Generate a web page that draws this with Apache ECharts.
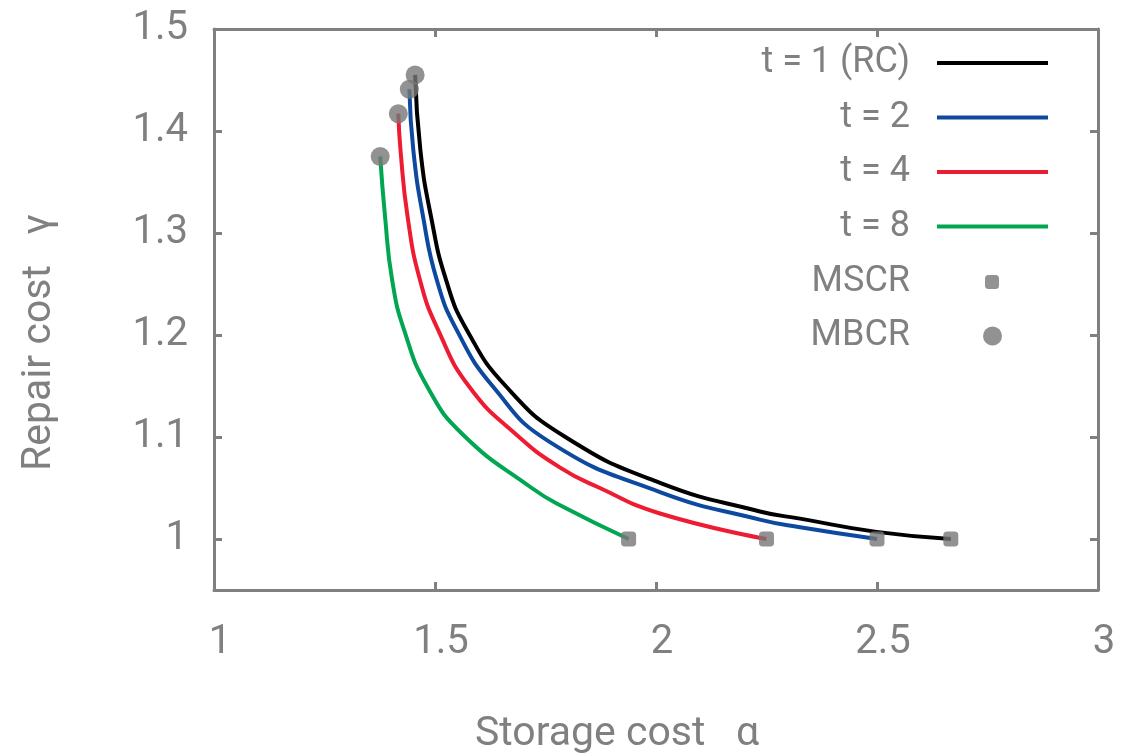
<!DOCTYPE html>
<html>
<head>
<meta charset="utf-8">
<script src="https://cdn.jsdelivr.net/npm/echarts@6/dist/echarts.min.js"></script>
<style>
  html, body { margin: 0; background: #fff; }
  #chart { width: 1129px; height: 755px; }
</style>
</head>
<body>
<div id="chart"></div>
<script>
// values (alpha = storage cost, gamma = repair cost)
const alphaT1 = [1.455, 1.467, 1.491, 1.525, 1.572, 1.662, 1.795, 2.009, 2.235, 2.326, 2.499, 2.667]
const gammaT1 = [1.455, 1.381, 1.316, 1.254, 1.205, 1.149, 1.100, 1.055, 1.027, 1.020, 1.007, 1.0]

const alphaT2 = [1.442, 1.451, 1.473, 1.504, 1.549, 1.632, 1.76, 2.009, 2.235, 2.326, 2.50]
const gammaT2 = [1.441, 1.381, 1.316, 1.254, 1.205, 1.149, 1.095, 1.046, 1.019, 1.0115, 1.0]

const alphaT4 = [1.417, 1.422, 1.438, 1.466, 1.507, 1.578, 1.685, 1.783, 1.873, 2.009, 2.25]
const gammaT4 = [1.417, 1.381, 1.316, 1.254, 1.205, 1.149, 1.102, 1.070, 1.050, 1.025, 1.0]

const alphaT8 = [1.376, 1.387, 1.403, 1.430, 1.483, 1.564, 1.719, 1.783, 1.938]
const gammaT8 = [1.375, 1.316, 1.254, 1.205, 1.149, 1.102, 1.050, 1.033, 1.0]

const mscrAlpha = [2.667, 2.50, 2.25, 1.938]
const mscrGamma = [1.0, 1.0, 1.0, 1.0]
const mbcrAlpha = [1.455, 1.442, 1.417, 1.376]
const mbcrGamma = [1.455, 1.441, 1.417, 1.375]

const curveNames = ['t = 1 (RC)', 't = 2', 't = 4', 't = 8']
const yTicks = [1, 1.1, 1.2, 1.3, 1.4, 1.5]

const gray = '#808080'
const font = 'Roboto'

const zip = (xs, ys) => xs.map((x, i) => [x, ys[i]])

const chart = echarts.init(document.getElementById('chart'))

const axisLine = { show: true, lineStyle: { color: gray, width: 3 } }
const axisTick = { show: true, inside: true, length: 8, lineStyle: { color: gray, width: 3 } }

const curve = (name, xs, ys, color) => ({
  name,
  type: 'line',
  data: zip(xs, ys),
  symbol: 'none',
  smooth: 0.5,
  lineStyle: { color, width: 4 },
  itemStyle: { color },
  z: 2
})

const legendText = (gap) => ({
  color: gray, fontSize: 36, fontFamily: font, lineHeight: 40, padding: [0, gap, 0, 0]
})

chart.setOption({
  animation: false,
  grid: { left: 214, right: 31, top: 29, bottom: 165, outerBoundsMode: 'none' },
  legend: [
    {
      data: curveNames.map(n => ({ name: n, icon: 'rect' })),
      orient: 'vertical', align: 'right', right: 81, top: 43, padding: 0,
      itemWidth: 111, itemHeight: 4, itemGap: 14.5, selectedMode: false,
      itemStyle: { borderWidth: 0 },
      textStyle: legendText(22)
    },
    {
      data: [{ name: 'MSCR', icon: 'roundRect' }],
      orient: 'vertical', align: 'right', right: 130, top: 262, padding: 0,
      itemWidth: 14, itemHeight: 14, selectedMode: false,
      itemStyle: { borderWidth: 0 },
      textStyle: legendText(70)
    },
    {
      data: [{ name: 'MBCR', icon: 'circle' }],
      orient: 'vertical', align: 'right', right: 127, top: 316, padding: 0,
      itemWidth: 19, itemHeight: 19, selectedMode: false,
      itemStyle: { borderWidth: 0 },
      textStyle: legendText(68)
    }
  ],
  xAxis: [
    {
      type: 'value', min: 1, max: 3, interval: 0.5, position: 'bottom',
      axisLine, axisTick, splitLine: { show: false },
      axisLabel: { margin: 33, color: gray, fontSize: 40, fontFamily: font, padding: [0, 0, 0, 12] },
      name: 'Storage cost   α', nameLocation: 'middle', nameGap: 124,
      nameTextStyle: { color: gray, fontSize: 41, fontFamily: font, padding: [0, 78, 0, 0] }
    },
    {
      type: 'value', min: 1, max: 3, interval: 0.5, position: 'top',
      axisLine, axisTick, splitLine: { show: false }, axisLabel: { show: false }
    }
  ],
  yAxis: [
    {
      type: 'value', min: 0.95, max: 1.5, position: 'left',
      axisLine, splitLine: { show: false },
      axisTick: Object.assign({}, axisTick, { customValues: yTicks }),
      axisLabel: { customValues: yTicks, margin: 26, color: gray, fontSize: 40, fontFamily: font },
      name: 'Repair cost   γ', nameLocation: 'middle', nameGap: 154,
      nameTextStyle: { color: gray, fontSize: 41, fontFamily: font, padding: [0, 66, 0, 0] }
    },
    {
      type: 'value', min: 0.95, max: 1.5, position: 'right',
      axisLine, splitLine: { show: false },
      axisTick: Object.assign({}, axisTick, { customValues: yTicks }),
      axisLabel: { show: false }
    }
  ],
  series: [
    curve(curveNames[0], alphaT1, gammaT1, '#000000'),
    curve(curveNames[1], alphaT2, gammaT2, '#0d4a9f'),
    curve(curveNames[2], alphaT4, gammaT4, '#ee1c33'),
    curve(curveNames[3], alphaT8, gammaT8, '#00a651'),
    {
      name: 'MSCR', type: 'scatter', data: zip(mscrAlpha, mscrGamma),
      symbol: 'roundRect', symbolSize: 15, itemStyle: { color: '#777777' }, z: 3
    },
    {
      name: 'MBCR', type: 'scatter', data: zip(mbcrAlpha, mbcrGamma),
      symbol: 'circle', symbolSize: 19, itemStyle: { color: '#777777' }, z: 3
    }
  ]
})
</script>
</body>
</html>
